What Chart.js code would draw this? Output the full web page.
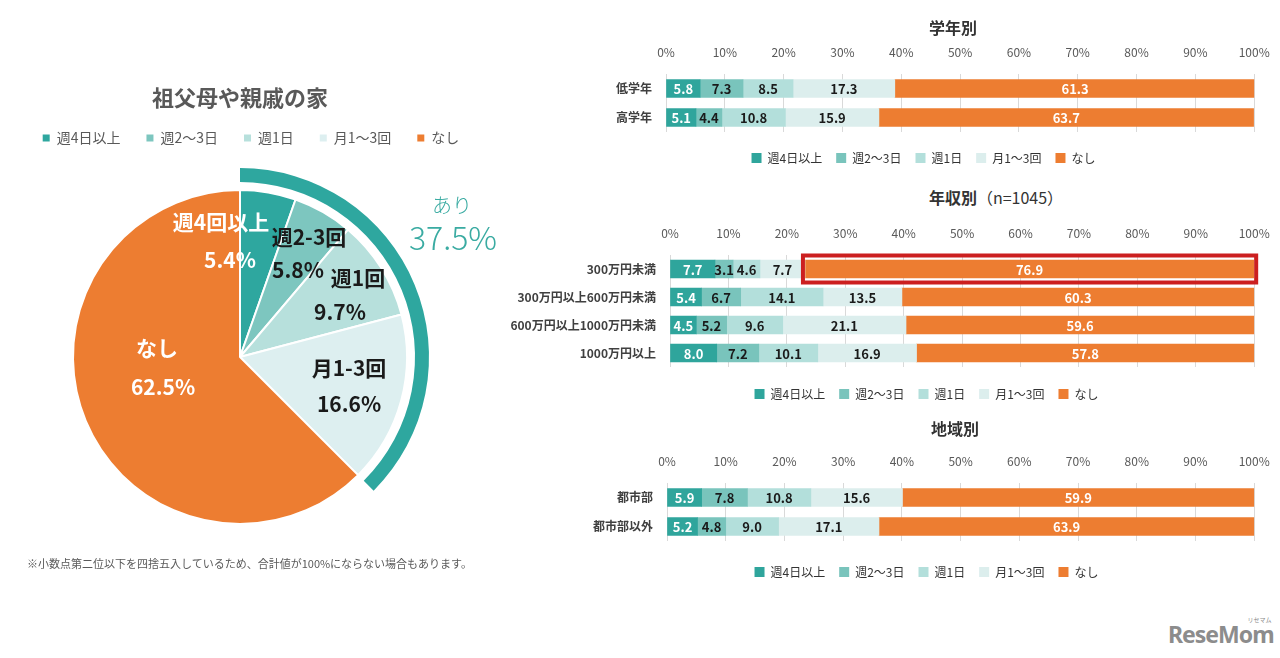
<!DOCTYPE html>
<html lang="ja">
<head>
<meta charset="utf-8">
<title>祖父母や親戚の家</title>
<script src="https://cdn.jsdelivr.net/npm/chart.js@4.4.1/dist/chart.umd.min.js"></script>
<style>
  html, body { margin: 0; padding: 0; background: #fff; }
  body { width: 1280px; height: 658px; position: relative; overflow: hidden;
         font-family: 'Noto Sans CJK JP', 'Noto Sans', sans-serif; }
  canvas { position: absolute; }
  .bar-title { position: absolute; width: 400px; text-align: center; font-size: 16px;
               font-weight: bold; color: #333; line-height: 20px; }
  #note { position: absolute; left: 27px; top: 555px; font-size: 11px; line-height: 16px; color: #595959; }
  #logo { position: absolute; left: 1168px; top: 618px; font-size: 23px; font-weight: bold;
          color: #8c8c8c; letter-spacing: -1px; font-family: 'Noto Sans', sans-serif; }
  #logo span { position: absolute; right: 2px; top: -3px; font-size: 6px; letter-spacing: 0; font-weight: normal;
               font-family: 'Noto Sans CJK JP', sans-serif; }
</style>
</head>
<body>
<canvas id="pieChart" width="520" height="500" style="left:0;top:60px"></canvas>
<canvas id="gradeChart" width="804" height="143" style="left:480px;top:31px"></canvas>
<canvas id="incomeChart" width="804" height="198" style="left:480px;top:212px"></canvas>
<canvas id="regionChart" width="804" height="148" style="left:480px;top:440px"></canvas>

<div class="bar-title" style="left:753px;top:17px">学年別</div>
<div class="bar-title" style="left:796px;top:187px">年収別<span style="font-weight:normal">（n=1045）</span></div>
<div class="bar-title" style="left:755px;top:418px">地域別</div>
<div id="note">※小数点第二位以下を四捨五入しているため、合計値が100%にならない場合もあります。</div>
<div id="logo">ReseMom<span>リセマム</span></div>

<script>
// ---- data ----
const seriesNames = ['週4日以上', '週2～3日', '週1日', '月1～3回', 'なし'];
const pieSliceNames = ['週4回以上', '週2-3回', '週1回', '月1-3回', 'なし'];
const pieValues = [5.4, 5.8, 9.7, 16.6, 62.5];

const gradeLabels = ['低学年', '高学年'];
const gradeWeek4 = [5.8, 5.1];
const gradeWeek23 = [7.3, 4.4];
const gradeWeek1 = [8.5, 10.8];
const gradeMonth = [17.3, 15.9];
const gradeNone = [61.3, 63.7];

const incomeLabels = ['300万円未満', '300万円以上600万円未満', '600万円以上1000万円未満', '1000万円以上'];
const incomeWeek4 = [7.7, 5.4, 4.5, 8.0];
const incomeWeek23 = [3.1, 6.7, 5.2, 7.2];
const incomeWeek1 = [4.6, 14.1, 9.6, 10.1];
const incomeMonth = [7.7, 13.5, 21.1, 16.9];
const incomeNone = [76.9, 60.3, 59.6, 57.8];

const regionLabels = ['都市部', '都市部以外'];
const regionWeek4 = [5.9, 5.2];
const regionWeek23 = [7.8, 4.8];
const regionWeek1 = [10.8, 9.0];
const regionMonth = [15.6, 17.1];
const regionNone = [59.9, 63.9];

// "あり" = every answer except なし
const ariValue = pieValues.slice(0, 4).reduce((a, b) => a + b, 0);
const ringValues = [ariValue, pieValues[4]];

// ---- styles ----
const FONT = "'Noto Sans CJK JP', 'Noto Sans', sans-serif";
Chart.defaults.font.family = FONT;

const pieColors = ['#2ea79f', '#7dc6bf', '#b7e0dc', '#ddeff0', '#ed7d31'];
const barColors = ['#2fa59c', '#79c4bc', '#b3dfdb', '#dceeed', '#ed7d31'];
const ringColor = '#2ea79f';
const pieTextColors = ['#fff', '#1a1a1a', '#1a1a1a', '#1a1a1a', '#fff'];
// [name line, value line] positions relative to the pie centre
const pieLabelOffsets = [
  [[-19, -135], [-10, -97]],
  [[69, -120], [58, -87]],
  [[118, -79], [100, -45]],
  [[109, 11], [109, 47]],
  [[-83, -9], [-77, 30]]
];

// moves the legend row sideways (legend box always spans the full width)
const legendShift = {
  id: 'legendShift',
  afterLayout(chart, args, opts) {
    chart.legend.left += opts.dx || 0;
    chart.legend.right += opts.dx || 0;
  }
};

const pieLabels = {
  id: 'pieLabels',
  afterDatasetsDraw(chart) {
    const ctx = chart.ctx;
    const arcs = chart.getDatasetMeta(2).data;
    const cx = arcs[0].x, cy = arcs[0].y;
    ctx.save();
    ctx.textAlign = 'center';
    ctx.textBaseline = 'middle';
    ctx.font = 'bold 21px ' + FONT;
    pieValues.forEach((v, i) => {
      const [a, b] = pieLabelOffsets[i];
      ctx.fillStyle = pieTextColors[i];
      ctx.fillText(pieSliceNames[i], cx + a[0], cy + a[1]);
      ctx.fillText(v.toFixed(1) + '%', cx + b[0], cy + b[1]);
    });
    ctx.fillStyle = '#3aaba2';
    ctx.font = '300 20px ' + FONT;
    ctx.fillText('あり', cx + 212, cy - 152);
    ctx.font = '300 32px ' + FONT;
    ctx.fillText(ringValues[0].toFixed(1) + '%', cx + 213, cy - 119);
    ctx.restore();
  }
};

new Chart(document.getElementById('pieChart'), {
  type: 'pie',
  data: {
    labels: seriesNames,
    datasets: [
      // outer "あり" ring
      {data: ringValues, backgroundColor: [ringColor, 'rgba(0,0,0,0)'], borderWidth: 0, weight: 14},
      // white gap between ring and pie
      {data: [1], backgroundColor: 'rgba(0,0,0,0)', borderWidth: 0, weight: 8},
      {data: pieValues, backgroundColor: pieColors, borderColor: '#fff', borderWidth: 2, weight: 167}
    ]
  },
  options: {
    responsive: false,
    animation: false,
    events: [],
    radius: 189,
    layout: {padding: {right: 40, bottom: 1}},
    plugins: {
      title: {
        display: true,
        text: '祖父母や親戚の家',
        color: '#595959',
        font: {size: 22, weight: 'bold'},
        padding: {top: 24.8, bottom: -6.2}
      },
      legend: {
        position: 'top',
        labels: {
          boxWidth: 7,
          boxHeight: 7,
          padding: 26,
          color: '#595959',
          font: {size: 14},
          generateLabels: () => seriesNames.map((name, i) => ({
            text: name, fillStyle: pieColors[i], strokeStyle: pieColors[i],
            lineWidth: 0, hidden: false, index: i, fontColor: '#595959'
          }))
        }
      },
      legendShift: {dx: 11},
      tooltip: {enabled: false}
    }
  },
  plugins: [pieLabels, legendShift]
});

// ---- bar charts ----
const barValueLabels = {
  id: 'barValueLabels',
  afterDatasetsDraw(chart) {
    const ctx = chart.ctx;
    ctx.save();
    ctx.font = 'bold 13px ' + FONT;
    ctx.textAlign = 'center';
    ctx.textBaseline = 'middle';
    chart.data.datasets.forEach((ds, di) => {
      chart.getDatasetMeta(di).data.forEach((bar, i) => {
        const {x, y, base} = bar.getProps(['x', 'y', 'base'], true);
        ctx.fillStyle = (di === 0 || di === 4) ? '#fff' : '#1a1a1a';
        ctx.fillText(ds.data[i].toFixed(1), (x + base) / 2, y + 1);
      });
    });
    ctx.restore();
  }
};

// red frame around the なし bar of 300万円未満
const highlightBox = {
  id: 'highlightBox',
  afterDatasetsDraw(chart) {
    const ctx = chart.ctx;
    const bar = chart.getDatasetMeta(4).data[0];
    const {x, y, base, height} = bar.getProps(['x', 'y', 'base', 'height'], true);
    ctx.save();
    ctx.strokeStyle = '#cc1f1f';
    ctx.lineWidth = 4;
    ctx.strokeRect(base - 2, y - height / 2 - 4.5, x - base + 4, height + 9);
    ctx.restore();
  }
};

function makeBarChart(id, labels, series, yWidth, legendGap, legendDx, extra) {
  return new Chart(document.getElementById(id), {
    type: 'bar',
    data: {
      labels: labels,
      datasets: seriesNames.map((name, k) => ({
        label: name,
        data: series[k],
        backgroundColor: barColors[k],
        borderWidth: 0,
        barThickness: 18
      }))
    },
    options: {
      indexAxis: 'y',
      responsive: false,
      animation: false,
      events: [],
      layout: {padding: {left: 10, right: 25}},
      scales: {
        x: {
          position: 'top',
          stacked: true,
          min: 0,
          max: 100,
          ticks: {stepSize: 10, padding: 14.3, color: '#595959', font: {size: 12}, callback: v => v + '%'},
          grid: {color: '#d9d9d9', drawTicks: false},
          border: {display: false}
        },
        y: {
          stacked: true,
          grid: {display: false, drawTicks: false},
          border: {display: false},
          ticks: {padding: 14, color: '#404040', font: {size: 12, weight: 'bold'}},
          afterFit: s => { s.width = yWidth; }
        }
      },
      plugins: {
        legend: {
          position: 'bottom',
          title: {display: true, text: '', font: {size: 1, lineHeight: 1}, padding: {top: legendGap - 1, bottom: 0}},
          labels: {boxWidth: 10, boxHeight: 10, padding: 14, color: '#333', font: {size: 12}}
        },
        legendShift: {dx: legendDx},
        tooltip: {enabled: false}
      }
    },
    plugins: [barValueLabels, legendShift].concat(extra || [])
  });
}

makeBarChart('gradeChart', gradeLabels,
  [gradeWeek4, gradeWeek23, gradeWeek1, gradeMonth, gradeNone], 176, 6, 49);
makeBarChart('incomeChart', incomeLabels,
  [incomeWeek4, incomeWeek23, incomeWeek1, incomeMonth, incomeNone], 180, 7, 52, [highlightBox]);
makeBarChart('regionChart', regionLabels,
  [regionWeek4, regionWeek23, regionWeek1, regionMonth, regionNone], 177, 11, 52);
</script>
</body>
</html>
